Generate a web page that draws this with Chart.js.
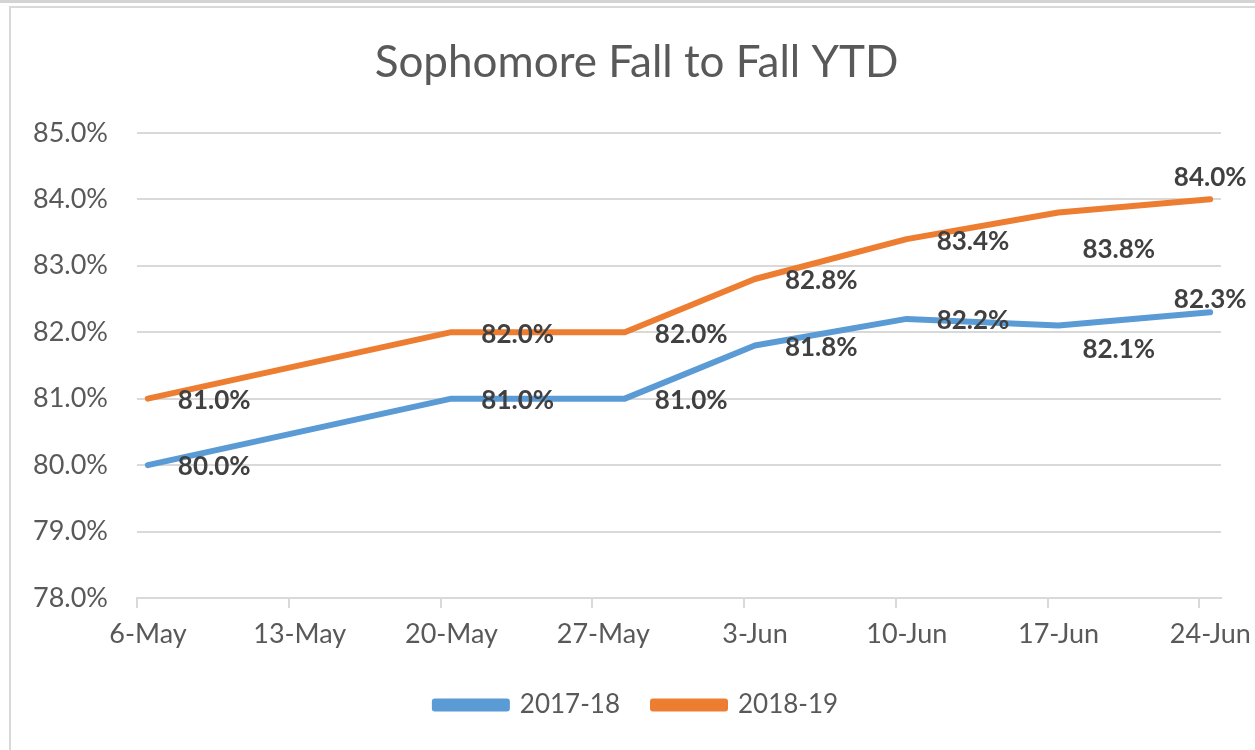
<!DOCTYPE html>
<html>
<head>
<meta charset="utf-8">
<title>Sophomore Fall to Fall YTD</title>
<script src="https://cdn.jsdelivr.net/npm/chart.js@4.4.0/dist/chart.umd.min.js"></script>
<style>
  html, body { margin: 0; padding: 0; background: #fff; }
  #wrap { position: relative; width: 1255px; height: 750px; overflow: hidden; }
  #topline { position: absolute; left: 0; top: 0; width: 100%; height: 3px; background: #d4d4d4; }
  #frame { position: absolute; left: 9px; top: 6px; width: 1300px; height: 800px; border: 2px solid #d9d9d9; }
  canvas { position: absolute; left: 0; top: 0; }
</style>
</head>
<body>
<div id="wrap">
  <div id="topline"></div>
  <div id="frame"></div>
  <canvas id="chart" width="1255" height="750"></canvas>
</div>
<script>
const seriesNames = ['2017-18', '2018-19'];
const pointDates = ['6-May', '20-May', '28-May', '3-Jun', '10-Jun', '17-Jun', '24-Jun'];
const values1718 = [80.0, 81.0, 81.0, 81.8, 82.2, 82.1, 82.3];
const values1819 = [81.0, 82.0, 82.0, 82.8, 83.4, 83.8, 84.0];
const tickDates = ['6-May', '13-May', '20-May', '27-May', '3-Jun', '10-Jun', '17-Jun', '24-Jun'];

const lineColors = ['#5b9bd5', '#ed7d31'];
const textGray = '#595959';
const gridGray = '#d9d9d9';
const font = 'Lato';

// days since the first tick date; each day is one slot on the date axis
const months = { May: 4, Jun: 5 };
function dayIndex(label) {
  const [d, m] = label.split('-');
  return (Date.UTC(2018, months[m], +d) - Date.UTC(2018, 4, 6)) / 864e5;
}

// points sit in the middle of their day slot
const toPoints = vals => vals.map((v, i) => ({ x: dayIndex(pointDates[i]) + 0.5, y: v }));

// label nudges in px [dx, dy]; dx 0 means centred over the point
const labelShift = {
  '2017-18': [[30, 2], [30, 2], [30, 2], [30, 2], [30, 2], [24, 24], [0, -13]],
  '2018-19': [[30, 2], [30, 2], [30, 2], [30, 2], [30, 2], [24, 37], [0, -22]]
};

const valueLabels = {
  id: 'valueLabels',
  afterDatasetsDraw(chart) {
    const ctx = chart.ctx;
    ctx.save();
    ctx.font = 'bold 26px ' + font;
    ctx.fillStyle = '#404040';
    ctx.textBaseline = 'middle';
    chart.data.datasets.forEach((ds, i) => {
      const shifts = labelShift[ds.label];
      chart.getDatasetMeta(i).data.forEach((pt, j) => {
        const [dx, dy] = shifts[j];
        ctx.textAlign = dx === 0 ? 'center' : 'left';
        ctx.fillText(ds.data[j].y.toFixed(1) + '%', pt.x + dx, pt.y + dy);
      });
    });
    ctx.restore();
  }
};

// title and legend are centred over the plot rather than the whole canvas
const centreOnPlot = {
  id: 'centreOnPlot',
  afterLayout(chart) {
    const shift = 20;
    [chart.titleBlock, chart.legend].forEach(box => {
      if (box) { box.left += shift; box.right += shift; }
    });
  }
};

const datasets = [values1718, values1819].map((vals, i) => ({
  label: seriesNames[i],
  data: toPoints(vals),
  borderColor: lineColors[i],
  backgroundColor: lineColors[i],
  borderWidth: 6,
  borderCapStyle: 'round',
  borderJoinStyle: 'round',
  pointRadius: 0,
  tension: 0
}));

new Chart(document.getElementById('chart'), {
  type: 'line',
  data: { datasets },
  plugins: [valueLabels, centreOnPlot],
  options: {
    responsive: false,
    animation: false,
    layout: { padding: { left: 12, right: 34, top: 0, bottom: 22 } },
    plugins: {
      title: {
        display: true,
        text: 'Sophomore Fall to Fall YTD',
        color: textGray,
        font: { family: font, size: 44, weight: 'normal' },
        padding: { top: 36, bottom: 44 }
      },
      legend: {
        position: 'bottom',
        labels: {
          color: textGray,
          font: { family: font, size: 26 },
          boxWidth: 72,
          boxHeight: 7,
          padding: 33
        }
      },
      tooltip: { enabled: false }
    },
    scales: {
      x: {
        type: 'linear',
        min: 0,
        max: dayIndex(tickDates[tickDates.length - 1]) + 1,
        afterBuildTicks: s => { s.ticks = tickDates.map(t => ({ value: dayIndex(t) })); },
        afterFit: s => { s.height = 61; },
        border: { color: gridGray, width: 2 },
        grid: { drawOnChartArea: false, color: gridGray, lineWidth: 2, tickLength: 10 },
        ticks: {
          color: textGray,
          font: { family: font, size: 27 },
          padding: 10,
          labelOffset: 11,
          maxRotation: 0,
          autoSkip: false,
          callback: (v, i) => tickDates[i]
        }
      },
      y: {
        min: 78,
        max: 85,
        afterFit: s => { s.width = 125; },
        border: { display: false },
        grid: { color: gridGray, lineWidth: 2, drawTicks: false },
        ticks: {
          stepSize: 1,
          color: textGray,
          font: { family: font, size: 27 },
          padding: 29,
          callback: v => v.toFixed(1) + '%'
        }
      }
    }
  }
});
</script>
</body>
</html>
